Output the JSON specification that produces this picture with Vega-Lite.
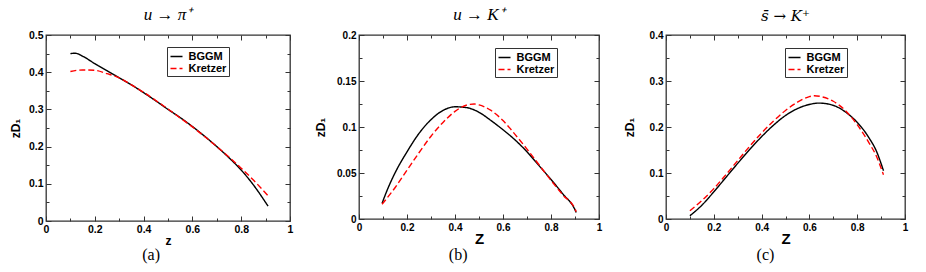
{
  "$schema": "https://vega.github.io/schema/vega-lite/v6.json",
  "padding": {"left": 8, "top": 5, "right": 2, "bottom": 1},
  "background": "white",
  "datasets": {
    "a": [
      {"z": 0.1, "v": 0.450, "model": "BGGM"}, {"z": 0.12, "v": 0.451, "model": "BGGM"}, {"z": 0.15, "v": 0.443, "model": "BGGM"},
      {"z": 0.2, "v": 0.423, "model": "BGGM"}, {"z": 0.25, "v": 0.404, "model": "BGGM"}, {"z": 0.3, "v": 0.385, "model": "BGGM"},
      {"z": 0.35, "v": 0.366, "model": "BGGM"}, {"z": 0.4, "v": 0.345, "model": "BGGM"}, {"z": 0.45, "v": 0.323, "model": "BGGM"},
      {"z": 0.5, "v": 0.300, "model": "BGGM"}, {"z": 0.55, "v": 0.278, "model": "BGGM"}, {"z": 0.6, "v": 0.254, "model": "BGGM"},
      {"z": 0.65, "v": 0.228, "model": "BGGM"}, {"z": 0.7, "v": 0.200, "model": "BGGM"}, {"z": 0.75, "v": 0.170, "model": "BGGM"},
      {"z": 0.8, "v": 0.137, "model": "BGGM"}, {"z": 0.85, "v": 0.097, "model": "BGGM"}, {"z": 0.91, "v": 0.040, "model": "BGGM"},
      {"z": 0.1, "v": 0.402, "model": "Kretzer"}, {"z": 0.125, "v": 0.405, "model": "Kretzer"}, {"z": 0.15, "v": 0.406, "model": "Kretzer"},
      {"z": 0.2, "v": 0.405, "model": "Kretzer"}, {"z": 0.25, "v": 0.396, "model": "Kretzer"}, {"z": 0.3, "v": 0.385, "model": "Kretzer"},
      {"z": 0.35, "v": 0.366, "model": "Kretzer"}, {"z": 0.4, "v": 0.346, "model": "Kretzer"}, {"z": 0.45, "v": 0.324, "model": "Kretzer"},
      {"z": 0.5, "v": 0.301, "model": "Kretzer"}, {"z": 0.55, "v": 0.277, "model": "Kretzer"}, {"z": 0.6, "v": 0.253, "model": "Kretzer"},
      {"z": 0.65, "v": 0.227, "model": "Kretzer"}, {"z": 0.7, "v": 0.200, "model": "Kretzer"}, {"z": 0.75, "v": 0.172, "model": "Kretzer"},
      {"z": 0.8, "v": 0.142, "model": "Kretzer"}, {"z": 0.85, "v": 0.110, "model": "Kretzer"}, {"z": 0.91, "v": 0.068, "model": "Kretzer"}
    ],
    "b": [
      {"z": 0.096, "v": 0.017, "model": "BGGM"}, {"z": 0.12, "v": 0.033, "model": "BGGM"}, {"z": 0.15, "v": 0.050, "model": "BGGM"},
      {"z": 0.2, "v": 0.073, "model": "BGGM"}, {"z": 0.25, "v": 0.093, "model": "BGGM"}, {"z": 0.3, "v": 0.108, "model": "BGGM"},
      {"z": 0.35, "v": 0.118, "model": "BGGM"}, {"z": 0.4, "v": 0.122, "model": "BGGM"}, {"z": 0.45, "v": 0.121, "model": "BGGM"},
      {"z": 0.5, "v": 0.116, "model": "BGGM"}, {"z": 0.55, "v": 0.107, "model": "BGGM"}, {"z": 0.6, "v": 0.097, "model": "BGGM"},
      {"z": 0.65, "v": 0.086, "model": "BGGM"}, {"z": 0.7, "v": 0.073, "model": "BGGM"}, {"z": 0.75, "v": 0.058, "model": "BGGM"},
      {"z": 0.8, "v": 0.043, "model": "BGGM"}, {"z": 0.85, "v": 0.027, "model": "BGGM"}, {"z": 0.9, "v": 0.010, "model": "BGGM"},
      {"z": 0.905, "v": 0.007, "model": "BGGM"},
      {"z": 0.096, "v": 0.016, "model": "Kretzer"}, {"z": 0.15, "v": 0.034, "model": "Kretzer"}, {"z": 0.2, "v": 0.053, "model": "Kretzer"},
      {"z": 0.25, "v": 0.072, "model": "Kretzer"}, {"z": 0.3, "v": 0.090, "model": "Kretzer"}, {"z": 0.35, "v": 0.105, "model": "Kretzer"},
      {"z": 0.4, "v": 0.117, "model": "Kretzer"}, {"z": 0.45, "v": 0.124, "model": "Kretzer"}, {"z": 0.48, "v": 0.125, "model": "Kretzer"},
      {"z": 0.5, "v": 0.124, "model": "Kretzer"}, {"z": 0.55, "v": 0.118, "model": "Kretzer"}, {"z": 0.6, "v": 0.107, "model": "Kretzer"},
      {"z": 0.65, "v": 0.092, "model": "Kretzer"}, {"z": 0.7, "v": 0.076, "model": "Kretzer"}, {"z": 0.75, "v": 0.059, "model": "Kretzer"},
      {"z": 0.8, "v": 0.042, "model": "Kretzer"}, {"z": 0.85, "v": 0.026, "model": "Kretzer"}, {"z": 0.9, "v": 0.011, "model": "Kretzer"},
      {"z": 0.905, "v": 0.008, "model": "Kretzer"}
    ],
    "c": [
      {"z": 0.1, "v": 0.007, "model": "BGGM"}, {"z": 0.15, "v": 0.030, "model": "BGGM"}, {"z": 0.2, "v": 0.059, "model": "BGGM"},
      {"z": 0.25, "v": 0.090, "model": "BGGM"}, {"z": 0.3, "v": 0.121, "model": "BGGM"}, {"z": 0.35, "v": 0.151, "model": "BGGM"},
      {"z": 0.4, "v": 0.179, "model": "BGGM"}, {"z": 0.45, "v": 0.204, "model": "BGGM"}, {"z": 0.5, "v": 0.225, "model": "BGGM"},
      {"z": 0.55, "v": 0.240, "model": "BGGM"}, {"z": 0.6, "v": 0.249, "model": "BGGM"}, {"z": 0.64, "v": 0.252, "model": "BGGM"},
      {"z": 0.7, "v": 0.247, "model": "BGGM"}, {"z": 0.75, "v": 0.233, "model": "BGGM"}, {"z": 0.8, "v": 0.210, "model": "BGGM"},
      {"z": 0.85, "v": 0.176, "model": "BGGM"}, {"z": 0.88, "v": 0.148, "model": "BGGM"}, {"z": 0.91, "v": 0.105, "model": "BGGM"},
      {"z": 0.1, "v": 0.018, "model": "Kretzer"}, {"z": 0.15, "v": 0.040, "model": "Kretzer"}, {"z": 0.2, "v": 0.066, "model": "Kretzer"},
      {"z": 0.25, "v": 0.096, "model": "Kretzer"}, {"z": 0.3, "v": 0.127, "model": "Kretzer"}, {"z": 0.35, "v": 0.158, "model": "Kretzer"},
      {"z": 0.4, "v": 0.187, "model": "Kretzer"}, {"z": 0.45, "v": 0.213, "model": "Kretzer"}, {"z": 0.5, "v": 0.236, "model": "Kretzer"},
      {"z": 0.55, "v": 0.254, "model": "Kretzer"}, {"z": 0.6, "v": 0.266, "model": "Kretzer"}, {"z": 0.62, "v": 0.268, "model": "Kretzer"},
      {"z": 0.65, "v": 0.266, "model": "Kretzer"}, {"z": 0.7, "v": 0.256, "model": "Kretzer"}, {"z": 0.75, "v": 0.236, "model": "Kretzer"},
      {"z": 0.8, "v": 0.205, "model": "Kretzer"}, {"z": 0.85, "v": 0.165, "model": "Kretzer"}, {"z": 0.88, "v": 0.137, "model": "Kretzer"},
      {"z": 0.91, "v": 0.096, "model": "Kretzer"}
    ]
  },
  "spacing": 19,
  "resolve": {
    "scale": {"color": "independent", "strokeDash": "independent"},
    "legend": {"color": "independent", "strokeDash": "independent"}
  },
  "hconcat": [
    {
      "title": {"text": "(a)", "orient": "bottom", "anchor": "middle", "fontStyle": "normal", "fontSize": 16, "offset": 0},
      "vconcat": [
        {
          "title": {"text": "u → π⁺"},
          "width": 244, "height": 186,
          "data": {"name": "a"},
          "layer": [
            {
              "mark": {"type": "line", "strokeWidth": 1.4, "interpolate": "monotone"},
              "encoding": {
                "x": {"field": "z", "type": "quantitative", "scale": {"domain": [0, 1], "nice": false},
                  "axis": {"title": "z", "titleFontSize": 12, "titlePadding": -1, "labelFontSize": 10.5, "values": [0,0.1,0.2,0.3,0.4,0.5,0.6,0.7,0.8,0.9,1],
                    "labelExpr": "round(datum.value*10) % 2 == 0 ? format(datum.value,'~g') : ''",
                    "tickSize": {"condition": {"test": "round(datum.value*10) % 2 == 0", "value": -5}, "value": -3}}},
                "y": {"field": "v", "type": "quantitative", "scale": {"domain": [0, 0.5], "nice": false},
                  "axis": {"title": "zD₁", "titlePadding": 6, "labelFontSize": 10.5, "values": [0,0.05,0.1,0.15,0.2,0.25,0.3,0.35,0.4,0.45,0.5],
                    "labelExpr": "round(datum.value*20) % 2 == 0 ? format(datum.value,'~g') : ''",
                    "tickSize": {"condition": {"test": "round(datum.value*20) % 2 == 0", "value": -5}, "value": -3}}},
                "color": {"field": "model", "type": "nominal", "scale": {"domain": ["BGGM", "Kretzer"], "range": ["black", "#ff0000"]},
                  "legend": {"title": null, "orient": "none", "legendX": 121, "legendY": 12}},
                "strokeDash": {"field": "model", "type": "nominal", "scale": {"domain": ["BGGM", "Kretzer"], "range": [[1, 0], [6, 3]]},
                  "legend": {"title": null, "orient": "none", "legendX": 121, "legendY": 12}}
              }
            },
            {
              "mark": {"type": "line", "opacity": 0},
              "encoding": {
                "x": {"field": "z", "type": "quantitative", "scale": {"domain": [0, 1], "nice": false},
                  "axis": {"orient": "top", "title": null, "labels": false, "values": [0,0.1,0.2,0.3,0.4,0.5,0.6,0.7,0.8,0.9,1],
                    "tickSize": {"condition": {"test": "round(datum.value*10) % 2 == 0", "value": -5}, "value": -3}}},
                "y": {"field": "v", "type": "quantitative", "scale": {"domain": [0, 0.5], "nice": false},
                  "axis": {"orient": "right", "title": null, "labels": false, "values": [0,0.05,0.1,0.15,0.2,0.25,0.3,0.35,0.4,0.45,0.5],
                    "tickSize": {"condition": {"test": "round(datum.value*20) % 2 == 0", "value": -5}, "value": -3}}},
                "detail": {"field": "model"}
              }
            }
          ],
          "resolve": {"axis": {"x": "independent", "y": "independent"}}
        }
      ]
    },
    {
      "title": {"text": "(b)", "orient": "bottom", "anchor": "middle", "fontStyle": "normal", "fontSize": 16, "offset": 0},
      "vconcat": [
        {
          "title": {"text": "u → K⁺"},
          "width": 240, "height": 184,
          "data": {"name": "b"},
          "layer": [
            {
              "mark": {"type": "line", "strokeWidth": 1.4, "interpolate": "monotone"},
              "encoding": {
                "x": {"field": "z", "type": "quantitative", "scale": {"domain": [0, 1], "nice": false},
                  "axis": {"title": "Z", "titleFontSize": 15, "titlePadding": -3, "labelFontSize": 10, "values": [0,0.1,0.2,0.3,0.4,0.5,0.6,0.7,0.8,0.9,1],
                    "labelExpr": "round(datum.value*10) % 2 == 0 ? format(datum.value,'~g') : ''",
                    "tickSize": {"condition": {"test": "round(datum.value*10) % 2 == 0", "value": -5}, "value": -3}}},
                "y": {"field": "v", "type": "quantitative", "scale": {"domain": [0, 0.2], "nice": false},
                  "axis": {"title": "zD₁", "titlePadding": 9, "labelFontSize": 10, "values": [0,0.025,0.05,0.075,0.1,0.125,0.15,0.175,0.2],
                    "labelExpr": "round(datum.value*40) % 2 == 0 ? format(datum.value,'~g') : ''",
                    "tickSize": {"condition": {"test": "round(datum.value*40) % 2 == 0", "value": -5}, "value": -3}}},
                "color": {"field": "model", "type": "nominal", "scale": {"domain": ["BGGM", "Kretzer"], "range": ["black", "#ff0000"]},
                  "legend": {"title": null, "orient": "none", "legendX": 136, "legendY": 13}},
                "strokeDash": {"field": "model", "type": "nominal", "scale": {"domain": ["BGGM", "Kretzer"], "range": [[1, 0], [6, 3]]},
                  "legend": {"title": null, "orient": "none", "legendX": 136, "legendY": 13}}
              }
            },
            {
              "mark": {"type": "line", "opacity": 0},
              "encoding": {
                "x": {"field": "z", "type": "quantitative", "scale": {"domain": [0, 1], "nice": false},
                  "axis": {"orient": "top", "title": null, "labels": false, "values": [0,0.1,0.2,0.3,0.4,0.5,0.6,0.7,0.8,0.9,1],
                    "tickSize": {"condition": {"test": "round(datum.value*10) % 2 == 0", "value": -5}, "value": -3}}},
                "y": {"field": "v", "type": "quantitative", "scale": {"domain": [0, 0.2], "nice": false},
                  "axis": {"orient": "right", "title": null, "labels": false, "values": [0,0.025,0.05,0.075,0.1,0.125,0.15,0.175,0.2],
                    "tickSize": {"condition": {"test": "round(datum.value*40) % 2 == 0", "value": -5}, "value": -3}}},
                "detail": {"field": "model"}
              }
            }
          ],
          "resolve": {"axis": {"x": "independent", "y": "independent"}}
        }
      ]
    },
    {
      "title": {"text": "(c)", "orient": "bottom", "anchor": "middle", "fontStyle": "normal", "fontSize": 16, "offset": 0},
      "vconcat": [
        {
          "title": {"text": "s̄ → K⁺", "font": "DejaVu Serif", "fontSize": 15},
          "width": 239, "height": 184,
          "data": {"name": "c"},
          "layer": [
            {
              "mark": {"type": "line", "strokeWidth": 1.4, "interpolate": "monotone"},
              "encoding": {
                "x": {"field": "z", "type": "quantitative", "scale": {"domain": [0, 1], "nice": false},
                  "axis": {"title": "Z", "titleFontSize": 15, "titlePadding": -3, "labelFontSize": 10, "values": [0,0.1,0.2,0.3,0.4,0.5,0.6,0.7,0.8,0.9,1],
                    "labelExpr": "round(datum.value*10) % 2 == 0 ? format(datum.value,'~g') : ''",
                    "tickSize": {"condition": {"test": "round(datum.value*10) % 2 == 0", "value": -5}, "value": -3}}},
                "y": {"field": "v", "type": "quantitative", "scale": {"domain": [0, 0.4], "nice": false},
                  "axis": {"title": "zD₁", "titlePadding": 13, "labelFontSize": 10, "values": [0,0.05,0.1,0.15,0.2,0.25,0.3,0.35,0.4],
                    "labelExpr": "round(datum.value*20) % 2 == 0 ? format(datum.value,'~g') : ''",
                    "tickSize": {"condition": {"test": "round(datum.value*20) % 2 == 0", "value": -5}, "value": -3}}},
                "color": {"field": "model", "type": "nominal", "scale": {"domain": ["BGGM", "Kretzer"], "range": ["black", "#ff0000"]},
                  "legend": {"title": null, "orient": "none", "legendX": 119, "legendY": 13}},
                "strokeDash": {"field": "model", "type": "nominal", "scale": {"domain": ["BGGM", "Kretzer"], "range": [[1, 0], [6, 3]]},
                  "legend": {"title": null, "orient": "none", "legendX": 119, "legendY": 13}}
              }
            },
            {
              "mark": {"type": "line", "opacity": 0},
              "encoding": {
                "x": {"field": "z", "type": "quantitative", "scale": {"domain": [0, 1], "nice": false},
                  "axis": {"orient": "top", "title": null, "labels": false, "values": [0,0.1,0.2,0.3,0.4,0.5,0.6,0.7,0.8,0.9,1],
                    "tickSize": {"condition": {"test": "round(datum.value*10) % 2 == 0", "value": -5}, "value": -3}}},
                "y": {"field": "v", "type": "quantitative", "scale": {"domain": [0, 0.4], "nice": false},
                  "axis": {"orient": "right", "title": null, "labels": false, "values": [0,0.05,0.1,0.15,0.2,0.25,0.3,0.35,0.4],
                    "tickSize": {"condition": {"test": "round(datum.value*20) % 2 == 0", "value": -5}, "value": -3}}},
                "detail": {"field": "model"}
              }
            }
          ],
          "resolve": {"axis": {"x": "independent", "y": "independent"}}
        }
      ]
    }
  ],
  "config": {
    "view": {"stroke": "#333333", "strokeWidth": 1.3},
    "concat": {"spacing": 0},
    "title": {"font": "Liberation Serif", "fontSize": 17, "fontStyle": "italic", "fontWeight": "normal", "color": "black", "offset": 6},
    "axis": {
      "domain": false, "grid": false,
      "ticks": true, "tickColor": "#333333", "tickWidth": 1,
      "labelFont": "Liberation Sans", "labelFontWeight": "bold", "labelFontSize": 10.5, "labelColor": "black",
      "labelPadding": 8, "labelFlush": false, "labelOverlap": false,
      "titleFont": "Liberation Sans", "titleFontWeight": "bold", "titleFontSize": 12, "titleColor": "black", "titlePadding": 5
    },
    "legend": {
      "strokeColor": "#333333", "fillColor": "white", "padding": 2.5, "cornerRadius": 0,
      "symbolType": "stroke", "symbolStrokeWidth": 1.4, "symbolSize": 144,
      "labelFont": "Liberation Sans", "labelFontWeight": "bold", "labelFontSize": 11, "labelColor": "black",
      "labelOffset": 5, "rowPadding": -2, "symbolOffset": 0
    }
  }
}
